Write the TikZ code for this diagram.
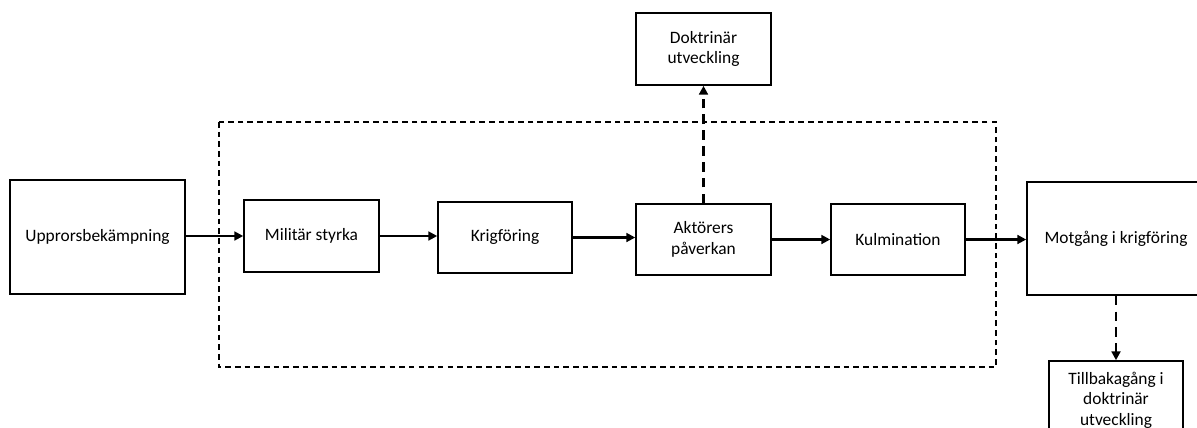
\documentclass[tikz,border=0pt]{standalone}
\usepackage{fontspec}
\setmainfont{Carlito}
\usetikzlibrary{arrows.meta}
\begin{document}
\begin{tikzpicture}[x=0.02cm,y=-0.02cm,
  box/.style={draw, line width=0.9pt, align=center, inner sep=2pt,
    font=\fontsize{9.9}{11.6}\selectfont},
  flow/.style={line width=1.2pt, -{Triangle[length=5pt,width=5pt]}},
  dflow/.style={line width=1.3pt, dash pattern=on 5.5pt off 3.5pt, -{Triangle[length=5pt,width=5pt]}},
  frame/.style={line width=0.8pt, dash pattern=on 3.2pt off 2.3pt}]
\useasboundingbox (0,0) rectangle (1197,427);
\draw[frame] (219,122) rectangle (996,367);
\node[box, minimum width=3.5cm, minimum height=2.28cm] (up) at (97.5,237) {Upprorsbekämpning};
\node[box, minimum width=2.7cm, minimum height=1.43cm] (mil) at (311.5,236) {Militär styrka};
\node[box, minimum width=2.68cm, minimum height=1.42cm] (krig) at (505,237.5) {Krigföring};
\node[box, minimum width=2.7cm, minimum height=1.42cm] (akt) at (703.5,239.5) {Aktörers\\påverkan};
\node[box, minimum width=2.68cm, minimum height=1.42cm] (kul) at (898,239.5) {Kulmination};
\node[box, minimum width=2.7cm, minimum height=1.44cm] (dok) at (703.5,49) {Doktrinär\\utveckling};
\node[box, minimum width=3.56cm, minimum height=2.26cm] (mot) at (1116,238.5) {Motgång i krigföring};
\node[box, minimum width=2.68cm, minimum height=1.56cm] (til) at (1116,400) {Tillbakagång i\\doktrinär\\utveckling};
\draw[flow] (up.east |- mil.west) -- (mil.west);
\draw[flow] (mil.east) -- (krig.west |- mil.east);
\draw[flow] (krig.east) -- (akt.west |- krig.east);
\draw[flow] (akt.east) -- (kul.west);
\draw[flow] (kul.east) -- (mot.west |- kul.east);
\draw[dflow] (akt.north) -- (dok.south);
\draw[dflow] (mot.south) -- (til.north);
\end{tikzpicture}
\end{document}
